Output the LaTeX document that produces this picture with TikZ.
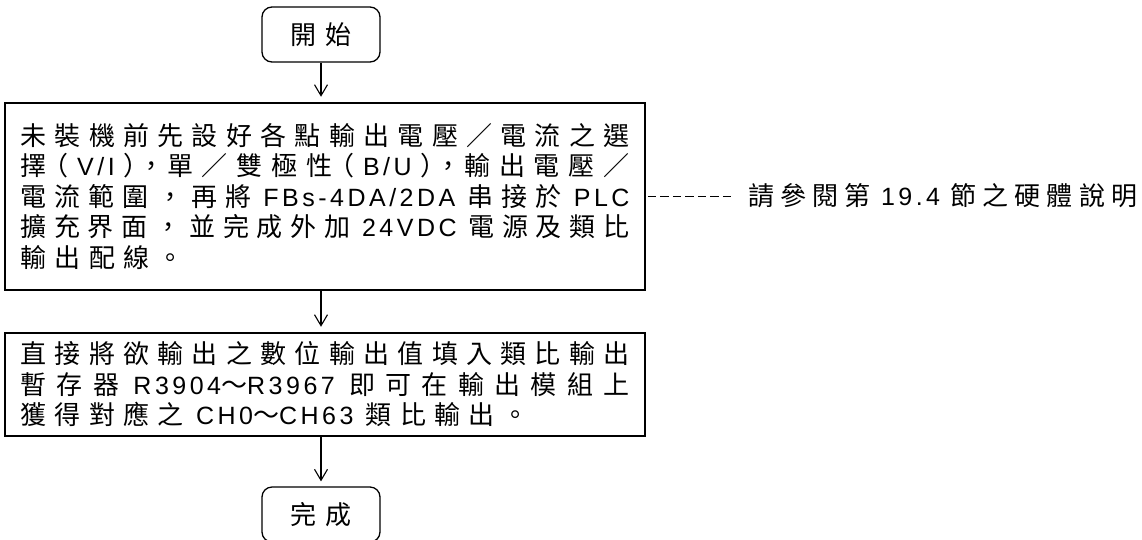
\documentclass[tikz,border=0pt]{standalone}
\usepackage{fontspec}
\setmainfont{Noto Sans CJK TC}
\newfontfamily\latf{Liberation Sans}
\newfontfamily\hwf{Noto Sans CJK TC}[RawFeature=+halt]
\usetikzlibrary{arrows.meta}
\makeatletter
\let\spend\relax
\def\sp@endmark{\spend}
\def\sp@loop#1{\def\sp@arg{#1}\ifx\sp@arg\sp@endmark\else{#1}\sp@sep\expandafter\sp@loop\fi}
\newcommand\spread[2]{{\def\sp@sep{#1}\sp@loop#2\spend\unskip\unkern}}
\makeatother
\newdimen\cgap \cgap=8.3pt
\newcommand\lw[1]{{\latf\fontsize{25}{30.5}\selectfont\spread{\kern3.5pt}{#1}}}
\newcommand\lwx[1]{\hspace{4pt}\lw{#1}\hspace{4pt}}
\newcommand\hw[1]{{\hwf #1}}
\newcommand\justline[1]{\makebox[609pt][s]{\spread{\hskip\cgap plus 1fil minus 3pt\relax}{#1}}}
\newcommand\natline[1]{\mbox{\spread{\hskip\cgap\relax}{#1}}}
\begin{document}
\begin{tikzpicture}[x=1pt,y=-1pt,
  term/.style={draw, line width=1.3pt, rounded corners=10pt, minimum width=118pt,
    minimum height=55pt, inner sep=0pt, font=\fontsize{26}{30.5}\selectfont},
  procbox/.style={draw, line width=2.5pt, minimum width=640pt, inner sep=0pt,
    text width=609pt, align=left, font=\fontsize{26}{30.5}\selectfont},
  flow/.style={line width=1.2pt, -{Straight Barb[length=11pt,width=13pt,line width=1.1pt]},
    shorten >=5pt},
  dashline/.style={line width=1.3pt, dash pattern=on 8.5pt off 4pt},
  note/.style={anchor=west, inner sep=0pt, font=\fontsize{26}{30.5}\selectfont}]
\useasboundingbox (0,0) rectangle (1142,539);
\clip (0,0) rectangle (1142,539);

\node[term] (start) at (321,34.5) {\mbox{\spread{\hskip 10pt}{開始}}};

\node[procbox, minimum height=187pt] (b1) at (325,196.5) {%
\justline{未裝機前先設好各點輸出電壓／電流之選}\\
\justline{擇{\hw（}{\lw{V/I}}{\hw）}{\hw，}單／雙極性{\hw（}{\lw{B/U}}{\hw）}{\hw，}輸出電壓／}\\
\justline{電流範圍，再將{\lwx{FBs-4DA/2DA}}串接於{\hspace{4pt}\lw{PLC}}}\\
\justline{擴充界面，並完成外加{\lwx{24VDC}}電源及類比}\\
\natline{輸出配線。}};

\node[procbox, minimum height=103pt] (b2) at (325,384.5) {%
\justline{直接將欲輸出之數位輸出值填入類比輸出}\\
\justline{暫存器{\hspace{4pt}\lw{R3904}～\lw{R3967}\hspace{4pt}}即可在輸出模組上}\\
\natline{獲得對應之{\hspace{4pt}\lw{CH0}～\lw{CH63}\hspace{4pt}}類比輸出。}};

\node[term] (finish) at (321,514.5) {\mbox{\spread{\hskip 10pt}{完成}}};

\node[note] (note) at (748,196) {{\cgap=6.2pt\natline{請參閱第{\lwx{19.4}}節之硬體說明}}};

\draw[flow] (start.south) -- (start.south |- b1.north);
\draw[flow] (b1.south -| start.south) -- (start.south |- b2.north);
\draw[flow] (b2.south -| start.south) -- (finish.north);
\draw[dashline] ([xshift=1.5pt]b1.east) -- ([xshift=-13pt]b1.east -| note.west);
\end{tikzpicture}
\end{document}
